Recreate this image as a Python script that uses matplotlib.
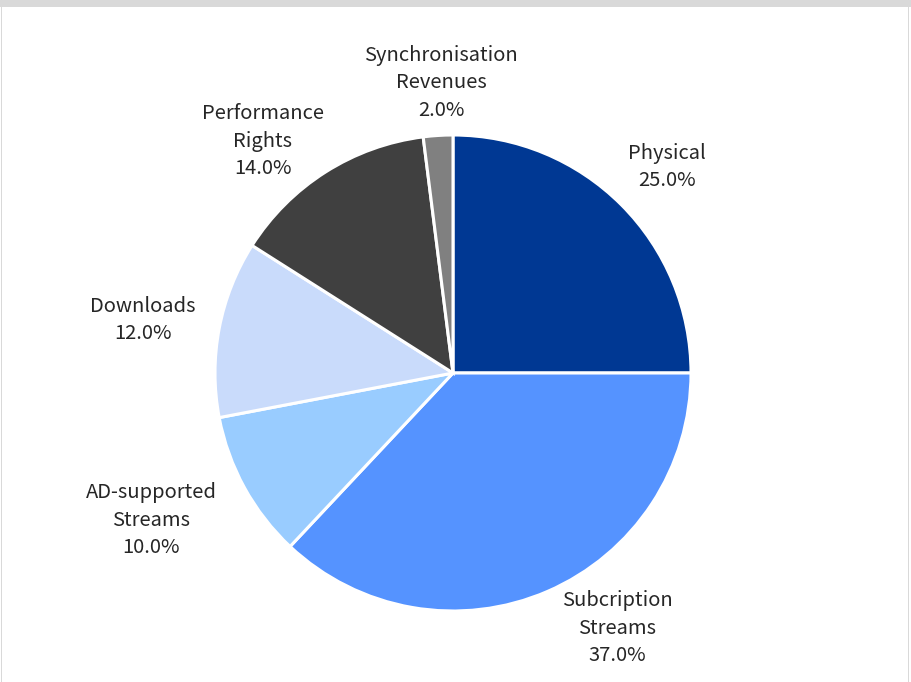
import matplotlib.pyplot as plt
from matplotlib.patches import Rectangle

plt.rcParams['font.family'] = ['Noto Sans CJK KR', 'DejaVu Sans']

# revenue shares by source (%)
labels = ['Physical', 'Subcription\nStreams', 'AD-supported\nStreams',
          'Downloads', 'Performance\nRights', 'Synchronisation\nRevenues']
shares = [25.0, 37.0, 10.0, 12.0, 14.0, 2.0]
colors = ['#003893', '#5593ff', '#99ccff', '#c9dbfb', '#404040', '#808080']

# where each label sits (pixels from the bottom-left corner)
label_x = [667, 617, 151, 143, 263, 441]
label_y = [515, 54, 162, 362, 541, 599]

fig = plt.figure(figsize=(9.12, 6.82), dpi=100)
ax = fig.add_axes([0, 0, 1, 1])

ax.pie(shares, colors=colors, startangle=90, counterclock=False,
       center=(453, 309), radius=238, frame=True,
       wedgeprops=dict(edgecolor='white', linewidth=2.2))
ax.set_xlim(0, 912)
ax.set_ylim(0, 682)
ax.set_aspect('equal')
ax.axis('off')

for name, val, x, y in zip(labels, shares, label_x, label_y):
    ax.text(x, y, f'{name}\n{val:.1f}%', ha='center', va='center',
            fontsize=14.5, color='#262626', linespacing=1.4)

# frame: grey band on top, thin lines on the sides
fig.patches.append(Rectangle((0, 1 - 7 / 682), 1, 7 / 682, transform=fig.transFigure,
                             facecolor='#d9d9d9', edgecolor='none'))
fig.patches.append(Rectangle((1 / 912, 0), 1 / 912, 1, transform=fig.transFigure,
                             facecolor='#d9d9d9', edgecolor='none'))
fig.patches.append(Rectangle((908 / 912, 0), 1 / 912, 1, transform=fig.transFigure,
                             facecolor='#d9d9d9', edgecolor='none'))

fig.savefig('out.png', dpi=100)
